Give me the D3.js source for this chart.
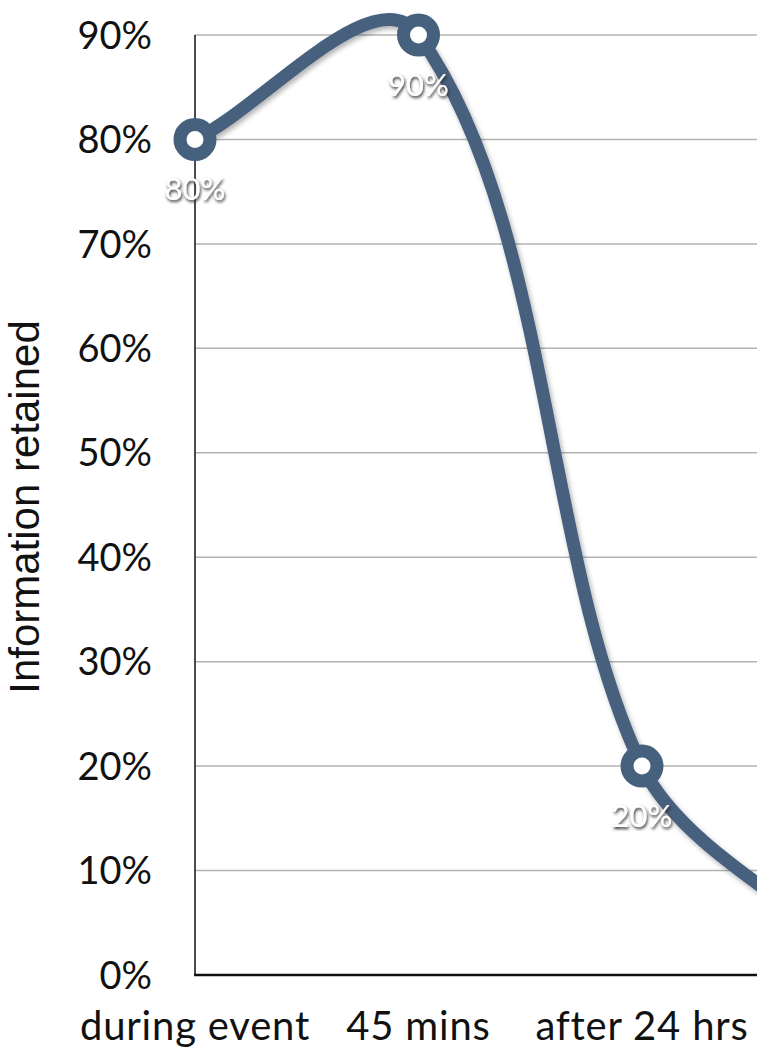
<!DOCTYPE html>
<html>
<head>
<meta charset="utf-8">
<script src="https://cdn.jsdelivr.net/npm/d3@7"></script>
<style>
  html, body { margin: 0; padding: 0; background: #ffffff; }
  svg { display: block; }
</style>
</head>
<body>
<svg id="chart" width="757" height="1052"></svg>
<script>
// ---- data ----
const categories = ["during event", "45 mins", "after 24 hrs", "after 1 week"];
const retained = [80, 90, 20, 1];              // % information retained
const pointLabels = ["80%", "90%", "20%", ""]; // data labels shown on markers
const yTicks = [0, 10, 20, 30, 40, 50, 60, 70, 80, 90];
const yTitle = "Information retained";

// ---- layout ----
const W = 757, H = 1052;
const plotLeft = 195, plotTop = 35, plotBottom = 975;
const step = 223.5;

const svg = d3.select("#chart");

const x = d3.scalePoint()
  .domain(categories)
  .range([plotLeft, plotLeft + step * (categories.length - 1)]);

const y = d3.scaleLinear().domain([0, 90]).range([plotBottom, plotTop]);

// smooth curve: tangent along neighbour chord, handle proportional to segment length
function smoothCurve(context) {
  const k = 0.3;
  return {
    areaStart() {}, areaEnd() {},
    lineStart() { this._p = []; },
    point(px, py) { this._p.push([+px, +py]); },
    lineEnd() {
      const p = this._p, n = p.length;
      if (!n) return;
      const u = p.map((pt, i) => {
        const a = p[Math.max(0, i - 1)], b = p[Math.min(n - 1, i + 1)];
        const dx = b[0] - a[0], dy = b[1] - a[1], l = Math.hypot(dx, dy) || 1;
        return [dx / l, dy / l];
      });
      context.moveTo(p[0][0], p[0][1]);
      for (let i = 0; i < n - 1; i++) {
        const L = Math.hypot(p[i + 1][0] - p[i][0], p[i + 1][1] - p[i][1]) * k;
        context.bezierCurveTo(
          p[i][0] + u[i][0] * L, p[i][1] + u[i][1] * L,
          p[i + 1][0] - u[i + 1][0] * L, p[i + 1][1] - u[i + 1][1] * L,
          p[i + 1][0], p[i + 1][1]);
      }
    }
  };
}

// filters
const defs = svg.append("defs");
const f1 = defs.append("filter").attr("id", "lineShadow")
  .attr("x", "-20%").attr("y", "-20%").attr("width", "140%").attr("height", "140%");
f1.append("feDropShadow").attr("dx", 2).attr("dy", 3).attr("stdDeviation", 2.5)
  .attr("flood-color", "#000").attr("flood-opacity", 0.3);
const f2 = defs.append("filter").attr("id", "textShadow")
  .attr("x", "-30%").attr("y", "-30%").attr("width", "160%").attr("height", "160%");
f2.append("feDropShadow").attr("dx", 1).attr("dy", 2).attr("stdDeviation", 1.6)
  .attr("flood-color", "#222").attr("flood-opacity", 0.95);

// gridlines
svg.append("g")
  .selectAll("line")
  .data(yTicks.filter(d => d > 0))
  .join("line")
  .attr("x1", plotLeft).attr("x2", W)
  .attr("y1", d => y(d)).attr("y2", d => y(d))
  .attr("stroke", "#b3b3b3").attr("stroke-width", 1.5);

// y tick labels
svg.append("g")
  .selectAll("text")
  .data(yTicks)
  .join("text")
  .attr("x", 152)
  .attr("y", d => y(d))
  .attr("dy", "0.36em")
  .attr("text-anchor", "end")
  .attr("font-family", "Lato, 'Open Sans', sans-serif")
  .attr("font-size", 38)
  .attr("fill", "#111")
  .text(d => d + "%");

// axes lines
svg.append("line")
  .attr("x1", plotLeft).attr("x2", plotLeft)
  .attr("y1", y(90)).attr("y2", plotBottom)
  .attr("stroke", "#111").attr("stroke-width", 1.5);
svg.append("line")
  .attr("x1", plotLeft - 1).attr("x2", W)
  .attr("y1", plotBottom).attr("y2", plotBottom)
  .attr("stroke", "#111").attr("stroke-width", 2.5);

// x labels
svg.append("g")
  .selectAll("text")
  .data(categories.filter(c => x(c) < W))
  .join("text")
  .attr("x", d => x(d))
  .attr("y", 1040)
  .attr("text-anchor", "middle")
  .attr("font-family", "Lato, 'Open Sans', sans-serif")
  .attr("font-size", 40)
  .attr("letter-spacing", 0.8)
  .attr("fill", "#111")
  .text(d => d);

// y title
svg.append("text")
  .attr("transform", `translate(39, 507) rotate(-90)`)
  .attr("text-anchor", "middle")
  .attr("font-family", "'Liberation Sans', Arial, sans-serif")
  .attr("font-size", 42)
  .attr("fill", "#111")
  .text(yTitle);

// line
const pts = categories.map((c, i) => ({ c, v: retained[i], label: pointLabels[i] }));
const line = d3.line()
  .x(d => x(d.c))
  .y(d => y(d.v))
  .curve(smoothCurve);

const lineColor = "#46617d";
svg.append("path")
  .datum(pts)
  .attr("d", line)
  .attr("fill", "none")
  .attr("stroke", lineColor)
  .attr("stroke-width", 13)
  .attr("stroke-linecap", "round")
  .attr("filter", "url(#lineShadow)");

// markers
const visible = pts.filter(d => d.label !== "");
svg.append("g")
  .selectAll("circle")
  .data(visible)
  .join("circle")
  .attr("cx", d => x(d.c))
  .attr("cy", d => y(d.v))
  .attr("r", 15)
  .attr("fill", "#ffffff")
  .attr("stroke", lineColor)
  .attr("stroke-width", 13);

// data labels
svg.append("g")
  .selectAll("text")
  .data(visible)
  .join("text")
  .attr("x", d => x(d.c))
  .attr("y", d => y(d.v) + 61)
  .attr("text-anchor", "middle")
  .attr("font-family", "Lato, 'Open Sans', sans-serif")
  .attr("font-size", 31)
  .attr("fill", "#ffffff")
  .attr("filter", "url(#textShadow)")
  .text(d => d.label);
</script>
</body>
</html>
